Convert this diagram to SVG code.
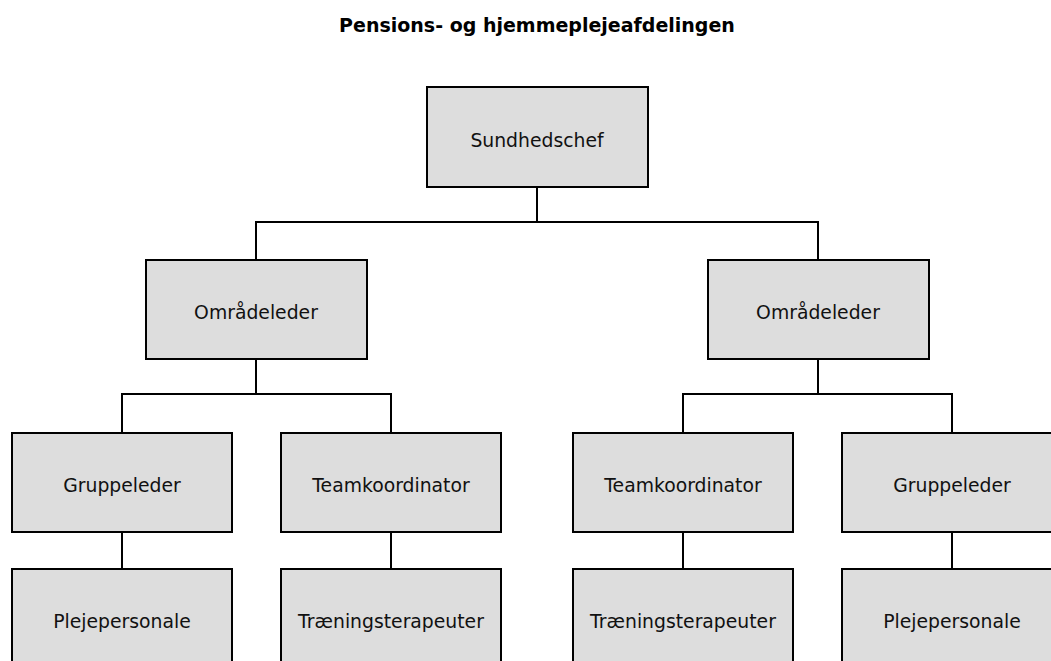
<svg xmlns="http://www.w3.org/2000/svg" width="1051" height="661" viewBox="0 0 1051 661">
  <style>
    .box rect { fill: #dddddd; stroke: #000; stroke-width: 2; }
    .box text { font-family: "DejaVu Sans", "Liberation Sans", sans-serif; font-size: 18.8px; fill: #111; text-anchor: middle; }
    .title { font-family: "DejaVu Sans", "Liberation Sans", sans-serif; font-weight: bold; font-size: 19px; fill: #000; text-anchor: middle; }
    #connectors path { fill: none; stroke: #000; stroke-width: 2; }
  </style>
  <rect width="1051" height="661" fill="#fff"/>
  <text class="title" x="537" y="32">Pensions- og hjemmeplejeafdelingen</text>

  <g id="connectors">
    <path d="M537 187V222M256 260V222H818V260"/>
    <path d="M256 359V394M122 433V394H391V433"/>
    <path d="M818 359V394M683 433V394H952V433"/>
    <path d="M122 532V569M391 532V569M683 532V569M952 532V569"/>
  </g>

  <g id="sundhedschef" class="box"><rect x="427" y="87" width="221" height="100"/><text x="537" y="147">Sundhedschef</text></g>
  <g id="omraadeleder-1" class="box"><rect x="146" y="260" width="221" height="99"/><text x="256" y="319">Områdeleder</text></g>
  <g id="omraadeleder-2" class="box"><rect x="708" y="260" width="221" height="99"/><text x="818" y="319">Områdeleder</text></g>
  <g id="gruppeleder-1" class="box"><rect x="12" y="433" width="220" height="99"/><text x="122" y="492">Gruppeleder</text></g>
  <g id="teamkoordinator-1" class="box"><rect x="281" y="433" width="220" height="99"/><text x="391" y="492">Teamkoordinator</text></g>
  <g id="teamkoordinator-2" class="box"><rect x="573" y="433" width="220" height="99"/><text x="683" y="492">Teamkoordinator</text></g>
  <g id="gruppeleder-2" class="box"><rect x="842" y="433" width="220" height="99"/><text x="952" y="492">Gruppeleder</text></g>
  <g id="plejepersonale-1" class="box"><rect x="12" y="569" width="220" height="100"/><text x="122" y="628">Plejepersonale</text></g>
  <g id="traeningsterapeuter-1" class="box"><rect x="281" y="569" width="220" height="100"/><text x="391" y="628">Træningsterapeuter</text></g>
  <g id="traeningsterapeuter-2" class="box"><rect x="573" y="569" width="220" height="100"/><text x="683" y="628">Træningsterapeuter</text></g>
  <g id="plejepersonale-2" class="box"><rect x="842" y="569" width="220" height="100"/><text x="952" y="628">Plejepersonale</text></g>
</svg>
